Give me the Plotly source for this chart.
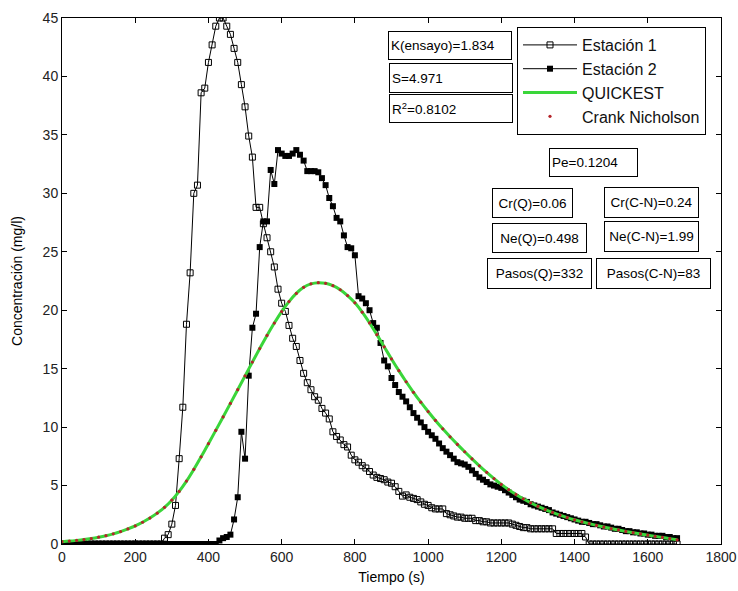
import plotly.graph_objects as go

# ---------------- data ----------------
time_s = list(range(0, 1690, 10))  # sampling grid (s)

estacion1 = (
    [0.0] * 28 +
    [0.5, 0.8, 1.7, 3.3, 7.3, 11.7, 18.8, 23.2, 30.0, 30.7,
     38.6, 39.0, 41.2, 42.7, 44.3, 45.0, 45.0, 44.3, 43.6, 42.4,
     41.2, 39.3, 37.4, 34.9, 33.1, 28.8, 28.8, 27.4, 26.2, 25.0,
     23.7, 21.8, 20.6, 19.9, 18.7, 17.6, 16.9, 15.7, 14.6, 13.8,
     13.2, 12.6, 12.3, 11.6, 11.2, 10.7, 9.6, 9.2, 8.9, 8.5,
     8.3, 7.6, 7.2, 7.0, 6.7, 6.5, 6.2, 5.9, 5.7, 5.6,
     5.5, 5.3, 5.2, 4.9, 4.5, 4.1, 4.2, 4.0, 3.9, 3.8,
     3.6, 3.4, 3.3, 3.1, 3.0, 3.0, 3.0, 2.6, 2.5, 2.4,
     2.3, 2.3, 2.2, 2.2, 2.2, 2.0, 2.0, 1.9, 1.9, 1.8,
     1.8, 1.8, 1.8, 1.8, 1.8, 1.7, 1.6, 1.5, 1.4, 1.4,
     1.3, 1.3, 1.3, 1.3, 1.3, 1.3, 1.3, 0.9, 0.9, 0.9,
     0.9, 0.9, 0.9, 0.9, 0.9, 0.6] +
    [0.0] * 25
)

estacion2 = (
    [0.0] * 43 +
    [0.3, 0.5, 0.6, 0.8, 2.1, 4.0, 9.6, 7.3, 14.4, 18.5,
     19.7, 25.4, 27.6, 27.6, 32.0, 30.8, 33.7, 33.4, 33.2, 33.2,
     33.4, 33.7, 33.3, 32.8, 31.9, 31.9, 31.9, 31.8, 31.3, 30.7,
     29.6, 28.9, 27.9, 27.6, 26.4, 25.4, 25.3, 24.7, 21.2, 21.0,
     20.6, 20.0, 18.9, 18.5, 17.2, 15.7, 15.2, 14.2, 13.6, 13.0,
     12.6, 12.2, 11.7, 11.2, 10.8, 10.4, 10.0, 9.6, 9.3, 9.0,
     8.6, 8.2, 7.9, 7.6, 7.3, 7.0, 6.9, 6.8, 6.6, 6.3,
     6.0, 5.7, 5.5, 5.3, 5.1, 5.0, 4.9, 4.8, 4.6, 4.4,
     4.2, 4.0, 3.8, 3.7, 3.6, 3.4, 3.3, 3.2, 3.1, 3.0,
     2.9, 2.7, 2.6, 2.5, 2.4, 2.3, 2.2, 2.1, 2.0, 1.9,
     1.9, 1.8, 1.7, 1.7, 1.6, 1.5, 1.5, 1.4, 1.3, 1.3,
     1.2, 1.1, 1.1, 1.0, 1.0, 0.9, 0.9, 0.8, 0.8, 0.7,
     0.7, 0.7, 0.6, 0.6, 0.5, 0.5]
)

model_t = list(range(0, 1700, 20))
quickest = [
    0.2, 0.25, 0.31, 0.38, 0.47, 0.58, 0.71, 0.87, 1.06, 1.29,
    1.55, 1.86, 2.22, 2.64, 3.14, 3.75, 4.5, 5.38, 6.38, 7.46,
    8.58, 9.72, 10.87, 12.03, 13.2, 14.38, 15.56, 16.72, 17.84, 18.9,
    19.88, 20.74, 21.44, 21.96, 22.26, 22.36, 22.3, 22.1, 21.75, 21.25,
    20.63, 19.83, 18.91, 17.91, 16.87, 15.83, 14.83, 13.88, 12.98, 12.13,
    11.33, 10.57, 9.85, 9.17, 8.52, 7.89, 7.28, 6.69, 6.13, 5.6,
    5.1, 4.65, 4.24, 3.87, 3.53, 3.22, 2.95, 2.7, 2.47, 2.26,
    2.07, 1.9, 1.74, 1.59, 1.45, 1.32, 1.2, 1.08, 0.97, 0.86,
    0.76, 0.66, 0.56, 0.46, 0.36,
]
crank_nicholson = list(quickest)

x_ticks = [0, 200, 400, 600, 800, 1000, 1200, 1400, 1600, 1800]
y_ticks = [0, 5, 10, 15, 20, 25, 30, 35, 40, 45]

boxes = [
    ("K(ensayo)=1.834", 388, 511, 31, 59, "left"),
    ("S=4.971", 389, 512, 63, 92, "left"),
    ("R<sup>2</sup>=0.8102", 389, 512, 95, 123, "left"),
    ("Pe=0.1204", 549, 637, 148, 176, "left"),
    ("Cr(Q)=0.06", 492, 572, 188, 217, "center"),
    ("Cr(C-N)=0.24", 604, 698, 187, 217, "center"),
    ("Ne(Q)=0.498", 492, 586, 223, 252, "center"),
    ("Ne(C-N)=1.99", 604, 698, 222, 252, "center"),
    ("Pasos(Q)=332", 487, 591, 258, 288, "center"),
    ("Pasos(C-N)=83", 596, 710, 258, 288, "center"),
]

# ---------------- figure ----------------
W, H = 738, 591
L, R, T, B = 62, 721, 18, 544

fig = go.Figure()
fig.add_trace(go.Scatter(
    x=time_s, y=estacion1, name="Estación 1", mode="lines+markers",
    line=dict(color="black", width=1),
    marker=dict(symbol="square-open", size=6, color="black", line=dict(width=1, color="black")),
))
fig.add_trace(go.Scatter(
    x=time_s, y=estacion2, name="Estación 2", mode="lines+markers",
    line=dict(color="black", width=1),
    marker=dict(symbol="square", size=6, color="black"),
))
fig.add_trace(go.Scatter(
    x=model_t, y=quickest, name="QUICKEST", mode="lines",
    line=dict(color="#3ad63a", width=3, shape="spline", smoothing=1.0),
))
fig.add_trace(go.Scatter(
    x=model_t, y=crank_nicholson, name="Crank Nicholson", mode="markers",
    marker=dict(symbol="circle", size=3.2, color="#b5242a"),
))

for text, x0, x1, y0, y1, al in boxes:
    pad = 2
    fig.add_annotation(
        xref="paper", yref="paper",
        x=((x0 + x1) / 2 - L) / (R - L), y=(B - (y0 + y1) / 2) / (B - T),
        xanchor="center", yanchor="middle",
        text=text, showarrow=False, align=al,
        width=(x1 - x0) - 2 * pad - 1, height=(y1 - y0) - 2 * pad - 1,
        bordercolor="black", borderwidth=1, borderpad=pad, bgcolor="white",
        font=dict(family="Liberation Sans, Arial, sans-serif", size=13.5, color="black"),
    )

axis_common = dict(
    showline=True, linecolor="black", linewidth=1, mirror="ticks",
    ticks="inside", ticklen=5, tickcolor="black", showgrid=False, zeroline=False,
    automargin=False,
    tickfont=dict(family="Liberation Sans Narrow, Liberation Sans, Arial", size=14, color="#222"),
)

fig.update_layout(
    width=W, height=H, autosize=False,
    margin=dict(l=L, r=W - R, t=T, b=H - B, autoexpand=False),
    paper_bgcolor="white", plot_bgcolor="white",
    font=dict(family="Liberation Sans, Arial, sans-serif", color="black"),
    showlegend=True,
    legend=dict(
        x=(517 - L) / (R - L), y=(B - 27) / (B - T), xanchor="left", yanchor="top",
        bgcolor="white", bordercolor="black", borderwidth=1,
        font=dict(family="Liberation Sans, Arial, sans-serif", size=16, color="#111"),
        itemwidth=54, tracegroupgap=0,
    ),
    xaxis=dict(range=[0, 1800], tickvals=x_ticks,
               title=dict(text="Tiempo (s)", font=dict(size=14), standoff=8), **axis_common),
    yaxis=dict(range=[0, 45], tickvals=y_ticks,
               title=dict(text="Concentración (mg/l)", font=dict(size=14), standoff=16), **axis_common),
)

fig.write_html(
    "out.html",
    config={"responsive": False, "displayModeBar": False},
    post_script="document.body.style.margin='0px';document.documentElement.style.overflow='hidden';",
)
